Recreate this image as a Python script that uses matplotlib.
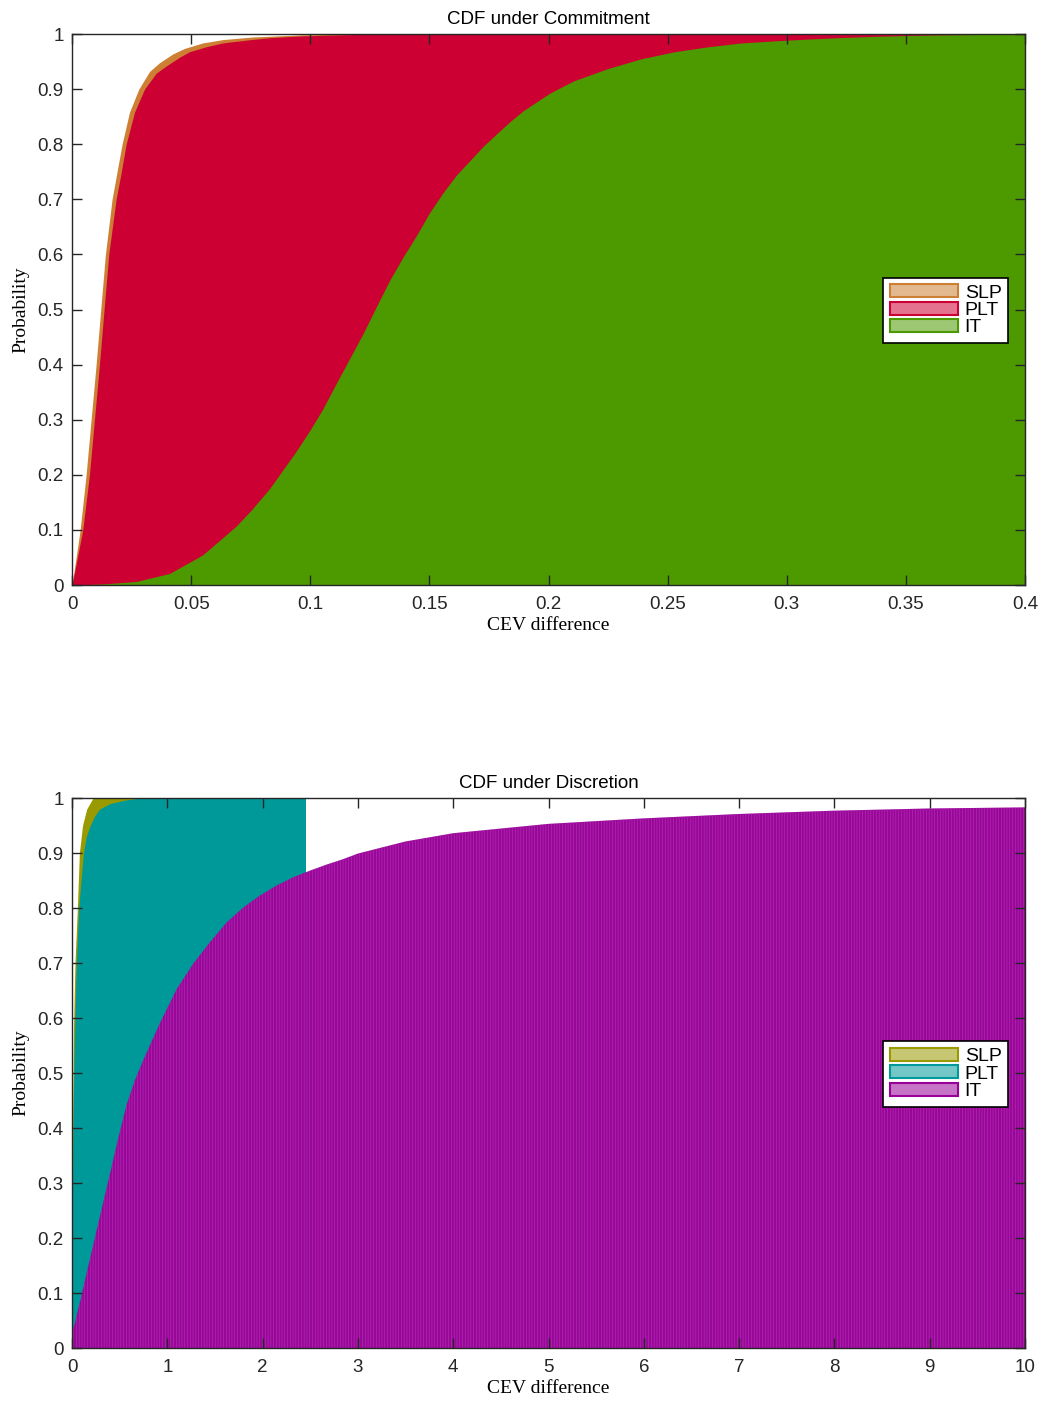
import numpy as np
import matplotlib
matplotlib.use('Agg')
import matplotlib.pyplot as plt
import matplotlib.patches as mpatches
from matplotlib.colors import to_rgba

# ---- commitment panel (CDF points) ----
com_slp_x = [0, 0.0034, 0.0059, 0.0101, 0.014, 0.0168, 0.0188, 0.021, 0.0241, 0.028, 0.0325, 0.0367,
             0.0423, 0.0472, 0.0549, 0.0633, 0.0759, 0.0969, 0.118, 0.4]
com_slp_y = [0, 0.1, 0.2, 0.4, 0.6, 0.7, 0.748, 0.8, 0.858, 0.90, 0.932, 0.948,
             0.964, 0.974, 0.984, 0.990, 0.9948, 0.9987, 1.0, 1.0]

com_plt_x = [0, 0.0045, 0.0073, 0.0115, 0.0154, 0.0185, 0.0206, 0.0227, 0.0262, 0.0304, 0.0353, 0.0395,
             0.0451, 0.0493, 0.0563, 0.0633, 0.0731, 0.0829, 0.0969, 0.125, 0.4]
com_plt_y = [0, 0.1, 0.2, 0.4, 0.6, 0.7, 0.748, 0.8, 0.858, 0.90, 0.929, 0.942,
             0.958, 0.968, 0.977, 0.984, 0.989, 0.9935, 0.9968, 1.0, 1.0]

com_it_x = [0, 0.0129, 0.0269, 0.0409, 0.05, 0.0549, 0.0619, 0.0689, 0.0752, 0.0829, 0.0941, 0.1,
            0.1053, 0.1109, 0.1165, 0.1221, 0.1277, 0.1333, 0.1389, 0.1445, 0.1501, 0.1557, 0.1613,
            0.1669, 0.1725, 0.1782, 0.1838, 0.1894, 0.2006, 0.2105, 0.2246, 0.2387, 0.2529, 0.267,
            0.281, 0.295, 0.309, 0.3234, 0.3375, 0.3516, 0.3656, 0.4]
com_it_y = [0, 0.002, 0.0065, 0.021, 0.043, 0.055, 0.081, 0.107, 0.136, 0.175, 0.243, 0.282,
            0.32, 0.366, 0.411, 0.456, 0.505, 0.553, 0.595, 0.634, 0.676, 0.712, 0.744,
            0.770, 0.796, 0.819, 0.841, 0.861, 0.893, 0.915, 0.937, 0.955, 0.968, 0.977,
            0.984, 0.9877, 0.991, 0.9938, 0.996, 0.9975, 0.9987, 1.0]

# ---- discretion panel ----
dis_slp_x = [0, 0.004, 0.008, 0.015, 0.031, 0.056, 0.077, 0.11, 0.154, 0.22, 0.71]
dis_slp_y = [0, 0.32, 0.45, 0.58, 0.70, 0.80, 0.90, 0.95, 0.98, 1.0, 1.0]

dis_plt_x = [0, 0.005, 0.01, 0.02, 0.03, 0.045, 0.07, 0.119, 0.15, 0.19, 0.24, 0.29, 0.40, 0.55, 0.71, 2.45]
dis_plt_y = [0, 0.28, 0.40, 0.52, 0.60, 0.70, 0.80, 0.90, 0.93, 0.95, 0.968, 0.98, 0.99, 0.996, 1.0, 1.0]

dis_it_x = [0, 0.03, 0.06, 0.09, 0.12, 0.15, 0.18, 0.21, 0.24, 0.27, 0.30, 0.33, 0.40, 0.49, 0.574, 0.66,
            0.749, 0.923, 1.10, 1.273, 1.448, 1.623, 1.798, 1.973, 2.148, 2.322, 2.497, 2.672, 2.847,
            3.0, 3.5, 4.0, 5.0, 6.0, 7.0, 8.0, 9.0, 10.0]
dis_it_y = [0.026, 0.045, 0.068, 0.088, 0.111, 0.134, 0.156, 0.178, 0.2, 0.223, 0.244, 0.267, 0.318,
            0.385, 0.443, 0.487, 0.524, 0.591, 0.653, 0.699, 0.738, 0.774, 0.801, 0.823, 0.841,
            0.856, 0.868, 0.879, 0.889, 0.899, 0.921, 0.936, 0.953, 0.963, 0.971, 0.977, 0.981, 0.983]

labels = ['SLP', 'PLT', 'IT']
com_colors = ['#cd8033', '#cc0033', '#4d9900']
dis_colors = ['#999900', '#009999', '#990099']

com_xticks = [0, 0.05, 0.1, 0.15, 0.2, 0.25, 0.3, 0.35, 0.4]
com_xticklabels = ['0', '0.05', '0.1', '0.15', '0.2', '0.25', '0.3', '0.35', '0.4']
dis_xticks = [0, 1, 2, 3, 4, 5, 6, 7, 8, 9, 10]
dis_xticklabels = ['0', '1', '2', '3', '4', '5', '6', '7', '8', '9', '10']
yticks = [0, 0.1, 0.2, 0.3, 0.4, 0.5, 0.6, 0.7, 0.8, 0.9, 1]
yticklabels = ['0', '0.1', '0.2', '0.3', '0.4', '0.5', '0.6', '0.7', '0.8', '0.9', '1']

plt.rcParams['font.family'] = ['Liberation Sans', 'DejaVu Sans']
plt.rcParams['hatch.linewidth'] = 0.45
SERIF = ['Liberation Serif', 'DejaVu Serif']


def style_axes(ax, xticks, xticklabels, xmax, title):
	ax.set_xlim(0, xmax)
	ax.set_ylim(0, 1)
	ax.set_xticks(xticks)
	ax.set_xticklabels(xticklabels)
	ax.set_yticks(yticks)
	ax.set_yticklabels(yticklabels)
	ax.tick_params(direction='in', length=7, width=1, colors='#262626', labelsize=13.5,
	               top=True, right=True)
	ax.tick_params(axis='x', pad=8)
	ax.tick_params(axis='y', pad=6)
	for sp in ax.spines.values():
		sp.set_color('#262626')
		sp.set_linewidth(1)
	ax.set_title(title, fontsize=13.5, pad=7)
	ax.set_xlabel('CEV difference', family=SERIF, fontsize=14, labelpad=3)
	ax.set_ylabel('Probability', family=SERIF, fontsize=14, labelpad=6)


def add_legend(ax, colors):
	handles = [mpatches.Patch(facecolor=to_rgba(c, 0.55), edgecolor=c, linewidth=1.5, label=l)
	           for c, l in zip(colors, labels)]
	leg = ax.legend(handles=handles, loc='upper left', bbox_to_anchor=(0.851, 0.558),
	                fontsize=14, handlelength=3.5, handleheight=0.65, labelspacing=0.0,
	                handletextpad=0.35, borderpad=0.35, borderaxespad=0, fancybox=False,
	                framealpha=1, edgecolor='black')
	leg.get_frame().set_linewidth(1.2)


fig = plt.figure(figsize=(10.44, 14.03), dpi=100)

# commitment
ax1 = fig.add_axes([0.069, 0.583, 0.9128, 0.3927])
ax1.fill_between(com_slp_x, com_slp_y, color=com_colors[0], linewidth=0)
ax1.fill_between(com_plt_x, com_plt_y, color=com_colors[1], linewidth=0)
ax1.fill_between(com_it_x, com_it_y, color=com_colors[2], linewidth=0)
style_axes(ax1, com_xticks, com_xticklabels, 0.4, 'CDF under Commitment')
add_legend(ax1, com_colors)

# discretion
ax2 = fig.add_axes([0.069, 0.0392, 0.9128, 0.392])
ax2.fill_between(dis_slp_x, dis_slp_y, color=dis_colors[0], linewidth=0)
ax2.fill_between(dis_plt_x, dis_plt_y, color=dis_colors[1], linewidth=0)
ax2.fill_between(dis_it_x, dis_it_y, facecolor='#9a069a', edgecolor='#b032b0',
                 hatch='|' * 6, linewidth=0)
style_axes(ax2, dis_xticks, dis_xticklabels, 10, 'CDF under Discretion')
add_legend(ax2, dis_colors)

fig.savefig('out.png', dpi=100)
